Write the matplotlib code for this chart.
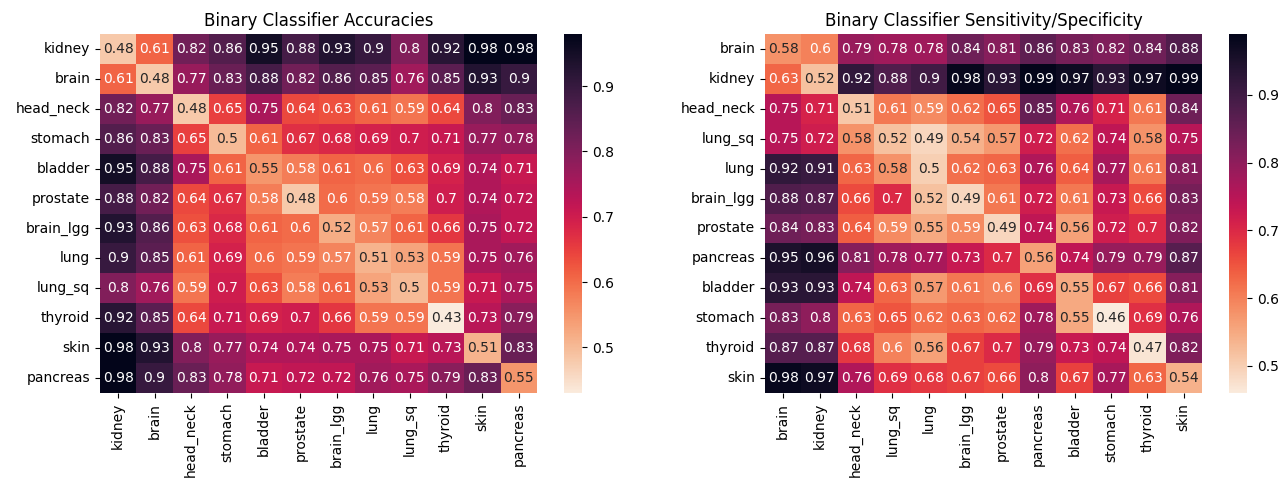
import numpy as np
import matplotlib
matplotlib.use("Agg")
import matplotlib.pyplot as plt
import seaborn as sns

acc_labels = ["kidney", "brain", "head_neck", "stomach", "bladder", "prostate",
              "brain_lgg", "lung", "lung_sq", "thyroid", "skin", "pancreas"]
acc_values = [
    [0.48, 0.61, 0.82, 0.86, 0.95, 0.88, 0.93, 0.9, 0.8, 0.92, 0.98, 0.98],
    [0.61, 0.48, 0.77, 0.83, 0.88, 0.82, 0.86, 0.85, 0.76, 0.85, 0.93, 0.9],
    [0.82, 0.77, 0.48, 0.65, 0.75, 0.64, 0.63, 0.61, 0.59, 0.64, 0.8, 0.83],
    [0.86, 0.83, 0.65, 0.5, 0.61, 0.67, 0.68, 0.69, 0.7, 0.71, 0.77, 0.78],
    [0.95, 0.88, 0.75, 0.61, 0.55, 0.58, 0.61, 0.6, 0.63, 0.69, 0.74, 0.71],
    [0.88, 0.82, 0.64, 0.67, 0.58, 0.48, 0.6, 0.59, 0.58, 0.7, 0.74, 0.72],
    [0.93, 0.86, 0.63, 0.68, 0.61, 0.6, 0.52, 0.57, 0.61, 0.66, 0.75, 0.72],
    [0.9, 0.85, 0.61, 0.69, 0.6, 0.59, 0.57, 0.51, 0.53, 0.59, 0.75, 0.76],
    [0.8, 0.76, 0.59, 0.7, 0.63, 0.58, 0.61, 0.53, 0.5, 0.59, 0.71, 0.75],
    [0.92, 0.85, 0.64, 0.71, 0.69, 0.7, 0.66, 0.59, 0.59, 0.43, 0.73, 0.79],
    [0.98, 0.93, 0.8, 0.77, 0.74, 0.74, 0.75, 0.75, 0.71, 0.73, 0.51, 0.83],
    [0.98, 0.9, 0.83, 0.78, 0.71, 0.72, 0.72, 0.76, 0.75, 0.79, 0.83, 0.55],
]

ss_labels = ["brain", "kidney", "head_neck", "lung_sq", "lung", "brain_lgg",
             "prostate", "pancreas", "bladder", "stomach", "thyroid", "skin"]
ss_values = [
    [0.58, 0.6, 0.79, 0.78, 0.78, 0.84, 0.81, 0.86, 0.83, 0.82, 0.84, 0.88],
    [0.63, 0.52, 0.92, 0.88, 0.9, 0.98, 0.93, 0.99, 0.97, 0.93, 0.97, 0.99],
    [0.75, 0.71, 0.51, 0.61, 0.59, 0.62, 0.65, 0.85, 0.76, 0.71, 0.61, 0.84],
    [0.75, 0.72, 0.58, 0.52, 0.49, 0.54, 0.57, 0.72, 0.62, 0.74, 0.58, 0.75],
    [0.92, 0.91, 0.63, 0.58, 0.5, 0.62, 0.63, 0.76, 0.64, 0.77, 0.61, 0.81],
    [0.88, 0.87, 0.66, 0.7, 0.52, 0.49, 0.61, 0.72, 0.61, 0.73, 0.66, 0.83],
    [0.84, 0.83, 0.64, 0.59, 0.55, 0.59, 0.49, 0.74, 0.56, 0.72, 0.7, 0.82],
    [0.95, 0.96, 0.81, 0.78, 0.77, 0.73, 0.7, 0.56, 0.74, 0.79, 0.79, 0.87],
    [0.93, 0.93, 0.74, 0.63, 0.57, 0.61, 0.6, 0.69, 0.55, 0.67, 0.66, 0.81],
    [0.83, 0.8, 0.63, 0.65, 0.62, 0.63, 0.62, 0.78, 0.55, 0.46, 0.69, 0.76],
    [0.87, 0.87, 0.68, 0.6, 0.56, 0.67, 0.7, 0.79, 0.73, 0.74, 0.47, 0.82],
    [0.98, 0.97, 0.76, 0.69, 0.68, 0.67, 0.66, 0.8, 0.67, 0.77, 0.63, 0.54],
]

W, H = 1287, 482
fig = plt.figure(figsize=(W / 100, H / 100), dpi=100)


def px_axes(x0, y0, x1, y1):
    return fig.add_axes([x0 / W, 1 - y1 / H, (x1 - x0) / W, (y1 - y0) / H])


ax1 = px_axes(100, 34, 537, 393)
cax1 = px_axes(564, 34, 582, 393)
ax2 = px_axes(765, 34, 1202, 393)
cax2 = px_axes(1229, 34, 1247, 393)

for ax, cax, vals, labels, title in [
    (ax1, cax1, acc_values, acc_labels, "Binary Classifier Accuracies"),
    (ax2, cax2, ss_values, ss_labels, "Binary Classifier Sensitivity/Specificity"),
]:
    sns.heatmap(np.array(vals), annot=True, cmap="rocket_r", ax=ax, cbar_ax=cax,
                xticklabels=labels, yticklabels=labels)
    ax.set_title(title)
    ax.set_xticklabels(labels, rotation=90)
    ax.set_yticklabels(labels, rotation=0)
    cax.set_yticks([0.5, 0.6, 0.7, 0.8, 0.9])

fig.savefig("out.png", dpi=100)
